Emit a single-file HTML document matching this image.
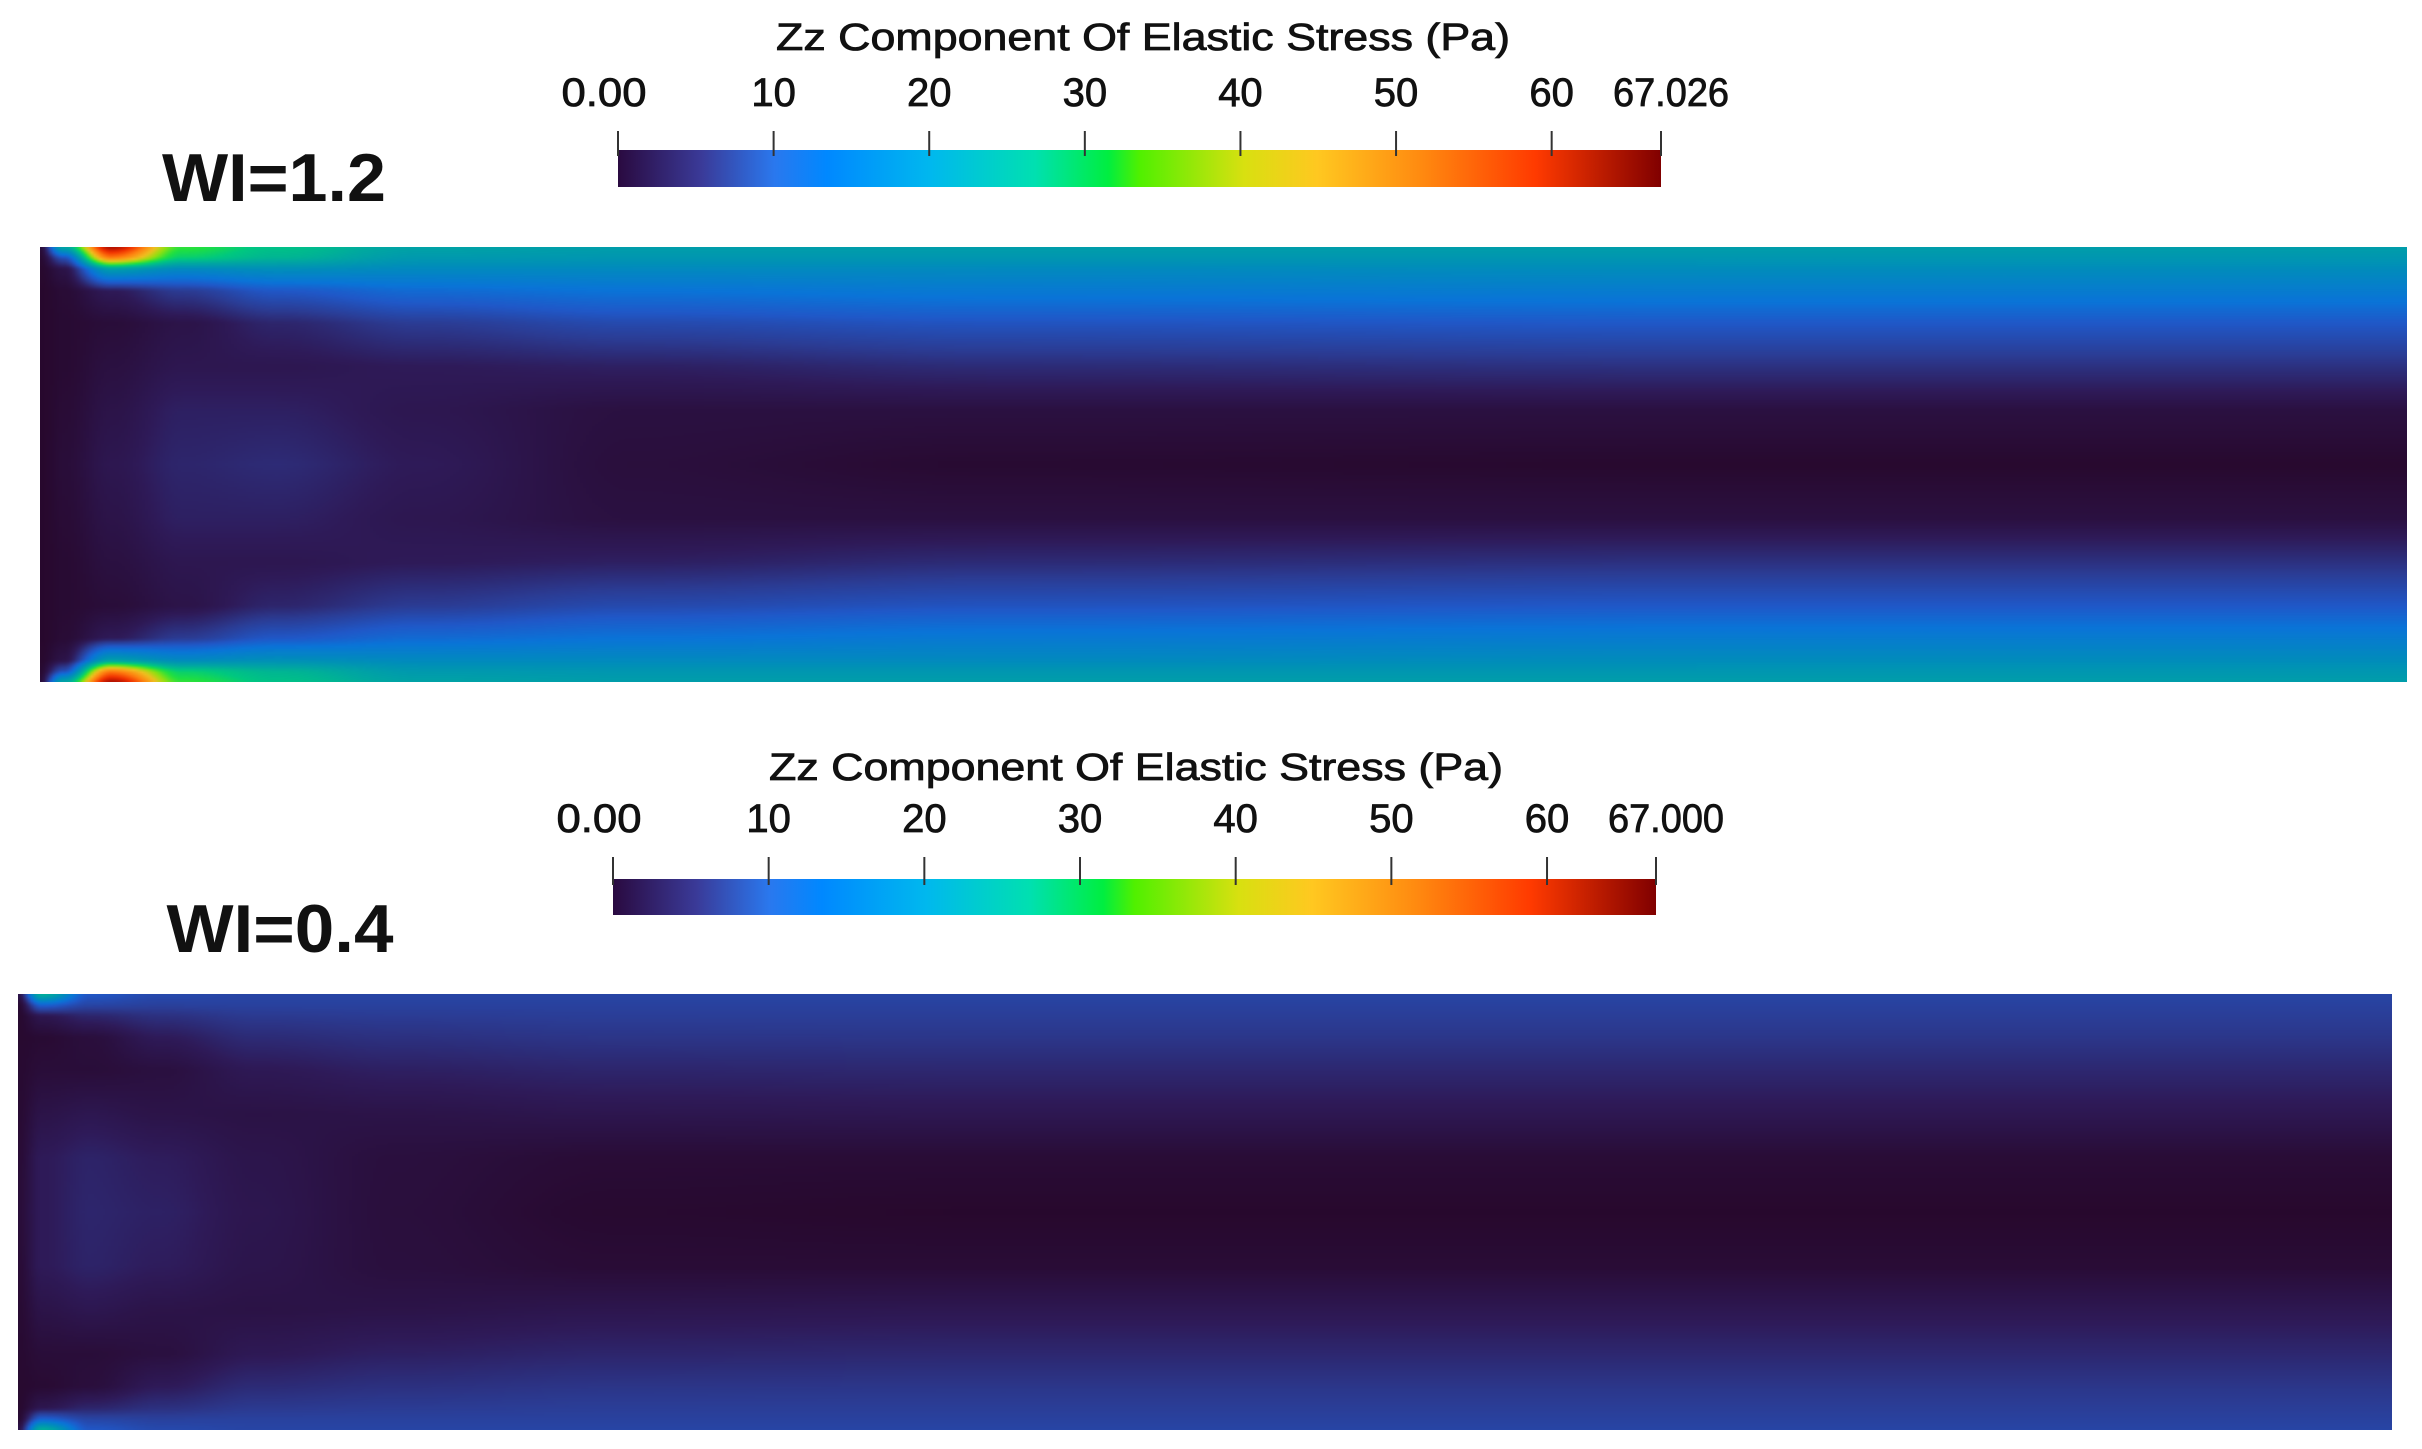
<!DOCTYPE html>
<html><head><meta charset="utf-8">
<style>
html,body{margin:0;padding:0;background:#fff;}
#wrap{position:relative;width:2422px;height:1449px;overflow:hidden;background:#fff;}
canvas{position:absolute;}
svg{position:absolute;left:0;top:0;}
text{font-family:"Liberation Sans",sans-serif;fill:#111;}
</style></head>
<body>
<div id="wrap">
<canvas id="c1" width="800" height="200" style="left:40px;top:247px;width:2367px;height:435px;"></canvas>
<canvas id="c2" width="800" height="200" style="left:18px;top:994px;width:2374px;height:436px;"></canvas>
<svg id="ov" width="2422" height="1449">
<defs>
<linearGradient id="cbg" x1="0" x2="1" y1="0" y2="0">
<stop offset="0" stop-color="#2a0a40"/>
<stop offset="0.08" stop-color="#3a3a98"/>
<stop offset="0.15" stop-color="#2a78ee"/>
<stop offset="0.2" stop-color="#0088ff"/>
<stop offset="0.3" stop-color="#00b8ee"/>
<stop offset="0.4" stop-color="#00e0b0"/>
<stop offset="0.47" stop-color="#00ee40"/>
<stop offset="0.5" stop-color="#50f000"/>
<stop offset="0.6" stop-color="#d8e010"/>
<stop offset="0.67" stop-color="#ffc820"/>
<stop offset="0.77" stop-color="#ff8a10"/>
<stop offset="0.88" stop-color="#ff3a00"/>
<stop offset="1" stop-color="#800000"/>
</linearGradient>
</defs>
<text x="274" y="178" font-size="68" font-weight="bold" text-anchor="middle" dominant-baseline="central" textLength="224" lengthAdjust="spacingAndGlyphs">WI=1.2</text>
<text x="280" y="929" font-size="68" font-weight="bold" text-anchor="middle" dominant-baseline="central" textLength="227" lengthAdjust="spacingAndGlyphs">WI=0.4</text>
<g id="cb1"></g>
<g id="cb2"></g>
</svg>
</div>
<script>
// ---- Colorbar data ----
const tickValues = [0, 10, 20, 30, 40, 50, 60];
const tickLabels = ["0.00", "10", "20", "30", "40", "50", "60"];
const maxLabels = ["67.026", "67.000"];
const maxValues = [67.026, 67.0];
const cbTitle = "Zz Component Of Elastic Stress (Pa)";

// ---- Field data (value in Pa) : stations along channel x (fraction), rows = distance from wall (fraction of half-height) ----
const xStations = [0, 0.01, 0.03, 0.06, 0.1, 0.16, 0.25, 0.4, 0.7, 1.0];
const yStations = [0, 0.05, 0.1, 0.2, 0.35, 0.55, 0.75, 1.0];
const fieldWi12 = [
  [1, 0.5, 0.3, 0.2, 0.2, 0.2, 0.2, 0.2],
  [22, 8, 2, 0.8, 0.6, 0.6, 0.8, 1],
  [65, 50, 20, 3, 1, 1.5, 2, 2.5],
  [32, 28, 16, 6, 2, 2.5, 3.5, 4],
  [26, 24, 17, 9, 4, 2.5, 3.5, 4.5],
  [21, 19, 16, 11, 6, 3, 2.5, 3],
  [20, 18.5, 16, 12, 7.5, 3.5, 1.5, 1.2],
  [20, 18.5, 16, 13, 8.5, 4.5, 1.5, 0.5],
  [20, 18.5, 16.5, 13.5, 9, 5, 1.5, 0.3],
  [20, 18.5, 16.5, 13.5, 9, 5, 1.5, 0.3]
];
const fieldWi04 = [
  [2, 0.5, 0.4, 0.4, 0.5, 0.6, 0.8, 1],
  [24, 10, 2.5, 0.6, 1, 2, 3, 3],
  [9, 7, 4, 1.2, 1, 2.5, 3.8, 4],
  [7.5, 6.5, 5, 3, 1.4, 2, 3.2, 3.6],
  [7, 6.6, 5.8, 4.5, 2.8, 1.8, 2.2, 2.4],
  [7, 6.6, 6, 5, 3.5, 2, 1.3, 1.2],
  [7, 6.6, 6.2, 5.4, 4, 2.4, 0.8, 0.4],
  [7, 6.6, 6.2, 5.5, 4.2, 2.6, 0.8, 0.2],
  [7, 6.6, 6.2, 5.5, 4.2, 2.6, 0.8, 0.2],
  [7, 6.6, 6.2, 5.5, 4.2, 2.6, 0.8, 0.2]
];

// ---- Colormap (value -> colour) ----
const cmapValues = [0, 3, 6, 9, 12, 17, 22, 27, 31, 36, 42, 50, 58, 67];
const cmapColors = ["#27072a","#2e1a58","#2b3c94","#2058c8","#0a74d8","#008fb8","#00a8a0","#00c880","#20e040","#90e010","#f0c020","#ff8010","#f03000","#900000"];

function hex(c){return [parseInt(c.slice(1,3),16),parseInt(c.slice(3,5),16),parseInt(c.slice(5,7),16)];}
const cmapRGB = cmapColors.map(hex);
function colorOf(v){
  if(v<=cmapValues[0]) return cmapRGB[0];
  for(let i=1;i<cmapValues.length;i++){
    if(v<=cmapValues[i]){
      const t=(v-cmapValues[i-1])/(cmapValues[i]-cmapValues[i-1]);
      const a=cmapRGB[i-1],b=cmapRGB[i];
      return [a[0]+(b[0]-a[0])*t,a[1]+(b[1]-a[1])*t,a[2]+(b[2]-a[2])*t];
    }
  }
  return cmapRGB[cmapRGB.length-1];
}
function locate(arr,v){
  for(let i=1;i<arr.length;i++){ if(v<=arr[i]) return [i-1,(v-arr[i-1])/(arr[i]-arr[i-1])]; }
  return [arr.length-2,1];
}
function sample(field,fx,fy){
  const [i,tx]=locate(xStations,fx);
  const [j,ty]=locate(yStations,fy);
  const sx=tx*tx*(3-2*tx), sy=ty;
  const a=field[i][j],b=field[i+1][j],c=field[i][j+1],d=field[i+1][j+1];
  return (a*(1-sx)+b*sx)*(1-sy)+(c*(1-sx)+d*sx)*sy;
}
function drawField(id,field){
  const cv=document.getElementById(id);
  const ctx=cv.getContext('2d');
  const W=cv.width,H=cv.height;
  const img=ctx.createImageData(W,H);
  for(let y=0;y<H;y++){
    const ny=(y+0.5)/H;
    const fy=1-Math.abs(ny-0.5)*2;
    for(let x=0;x<W;x++){
      const fx=(x+0.5)/W;
      const col=colorOf(sample(field,fx,fy));
      const k=(y*W+x)*4;
      img.data[k]=col[0];img.data[k+1]=col[1];img.data[k+2]=col[2];img.data[k+3]=255;
    }
  }
  ctx.putImageData(img,0,0);
}
drawField('c1',fieldWi12);
drawField('c2',fieldWi04);

// ---- Colorbars ----
const NS='http://www.w3.org/2000/svg';
function mk(tag,attrs,parent){const e=document.createElementNS(NS,tag);for(const k in attrs)e.setAttribute(k,attrs[k]);parent.appendChild(e);return e;}
function drawColorbar(gid,x0,x1,barTop,barBot,tickTop,labelY,titleX,titleY,maxIdx){
  const g=document.getElementById(gid);
  const vmax=maxValues[maxIdx];
  const sx=v=>x0+(v/vmax)*(x1-x0);
  const bar=mk('rect',{x:x0,y:barTop,width:x1-x0,height:barBot-barTop,fill:'url(#cbg)'},g);
  
  
  const t=mk('text',{x:titleX,y:titleY,'font-size':38,'text-anchor':'middle','dominant-baseline':'central',textLength:734,lengthAdjust:'spacingAndGlyphs',stroke:'#111','stroke-width':0.8},g);
  t.textContent=cbTitle;
  
  
  const vals=tickValues.concat([vmax]);
  const labs=tickLabels.concat([maxLabels[maxIdx]]);
  vals.forEach((v,i)=>{
    const x=sx(v);
    const ln=mk('line',{x1:x,x2:x,y1:tickTop,y2:barTop+6,stroke:'#333','stroke-width':2},g);
    
    
    let lx=x;
    if(i===0) lx=x-14;
    if(i===vals.length-1) lx=x+10;
    const lab=mk('text',{x:lx,y:labelY,'font-size':40,'text-anchor':'middle','dominant-baseline':'central',stroke:'#111','stroke-width':0.8},g);
    if(i===0) lab.setAttribute('textLength',85);
    if(i===vals.length-1) lab.setAttribute('textLength',116);
    lab.setAttribute('lengthAdjust','spacingAndGlyphs');
    lab.textContent=labs[i];
    
    
  });
}
drawColorbar('cb1',618,1661,150,187,131,93,1143,38,0);
drawColorbar('cb2',613,1656,879,915,857,819,1136,768,1);
</script>
</body></html>
